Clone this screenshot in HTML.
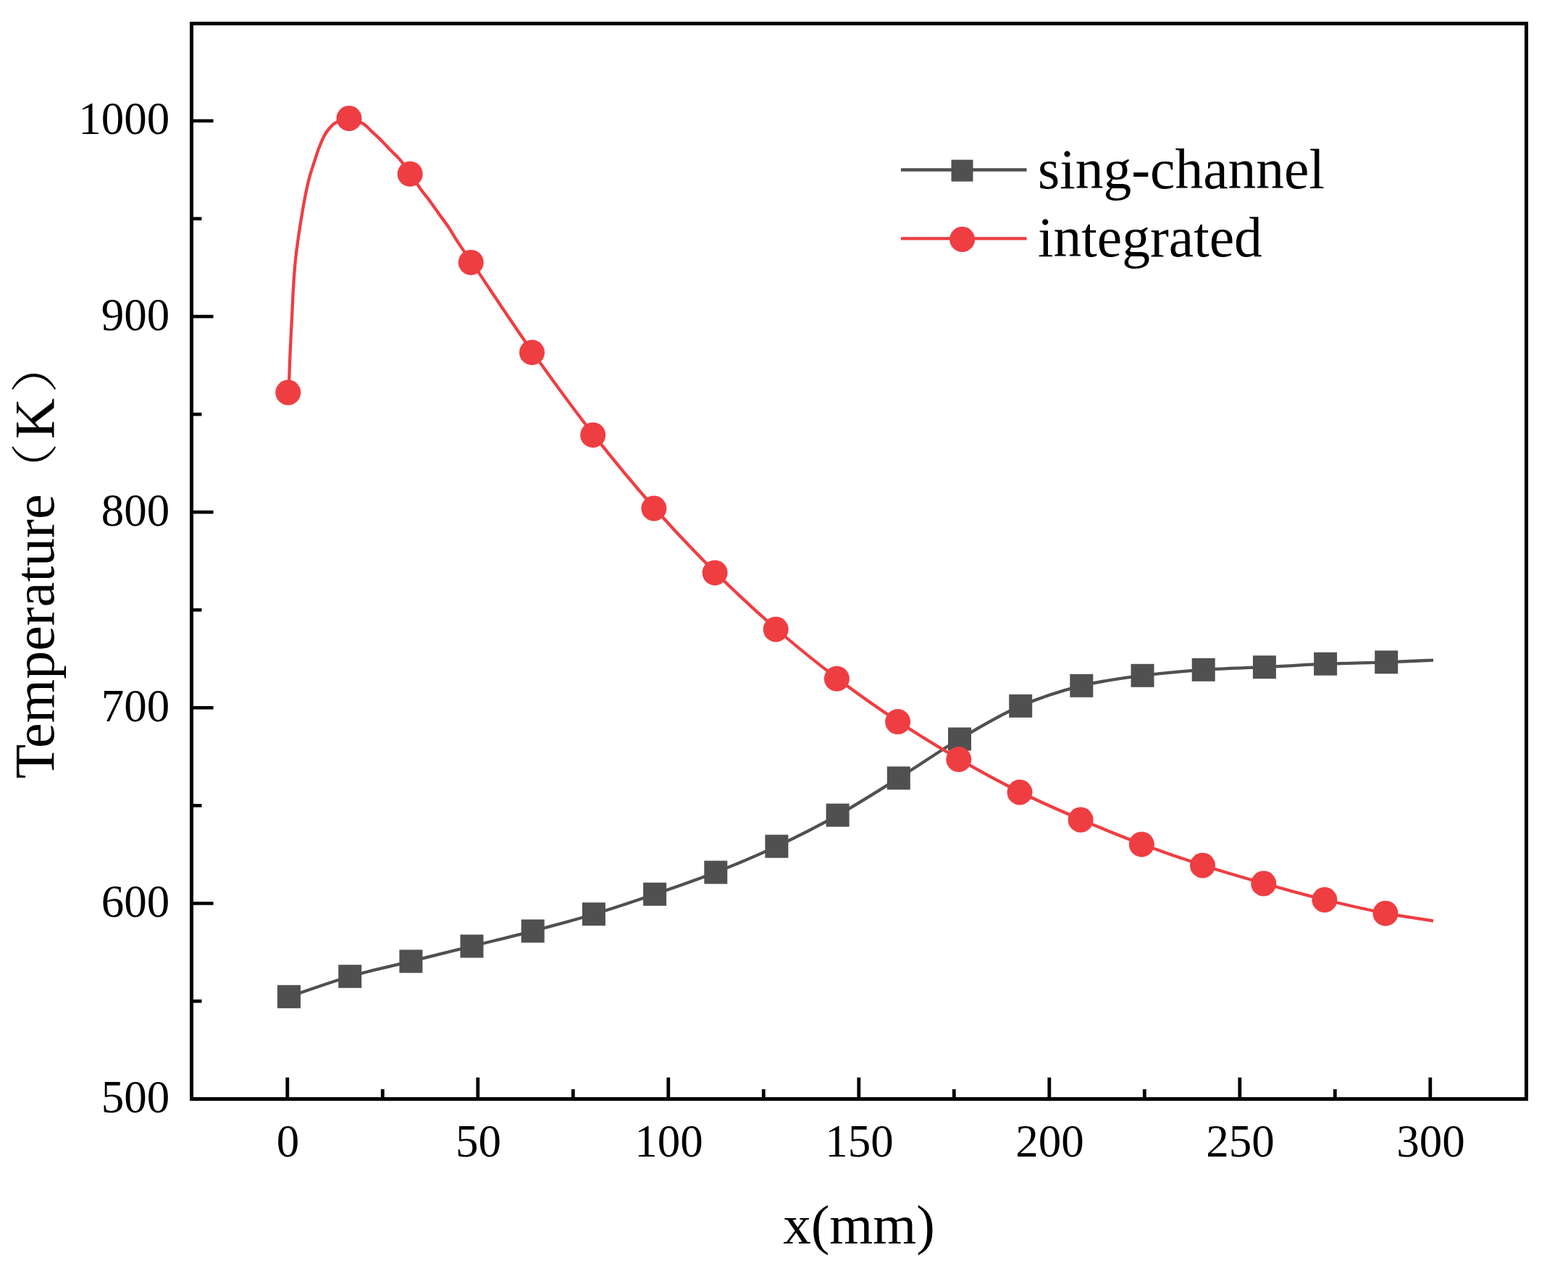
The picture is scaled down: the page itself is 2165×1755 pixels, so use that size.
<!DOCTYPE html>
<html><head><meta charset="utf-8"><title>Temperature vs x</title>
<style>
html,body{margin:0;padding:0;background:#fff;}
body{width:2165px;height:1755px;overflow:hidden;}
svg{display:block;}
text{font-family:"Liberation Serif","Noto Serif CJK SC",serif;fill:#000;}
.t{font-size:63px;}
.ti{font-size:77px;}
.yt{font-size:78px;}
.yt.cjk{font-size:65px;font-weight:200;}
.lg{font-size:77.5px;}
.cjk{font-family:"Noto Serif CJK SC","Liberation Serif",serif;}
</style></head>
<body>
<svg width="2165" height="1755" viewBox="0 0 2165 1755">
<rect width="2165" height="1755" fill="#fff"/>
<rect x="264.5" y="32.5" width="1843" height="1485" fill="none" stroke="#000" stroke-width="5"/>
<line x1="264.5" y1="1382.44" x2="278.5" y2="1382.44" stroke="#000" stroke-width="4.6"/>
<line x1="264.5" y1="1247.38" x2="294.6" y2="1247.38" stroke="#000" stroke-width="4.6"/>
<line x1="264.5" y1="1112.32" x2="278.5" y2="1112.32" stroke="#000" stroke-width="4.6"/>
<line x1="264.5" y1="977.26" x2="294.6" y2="977.26" stroke="#000" stroke-width="4.6"/>
<line x1="264.5" y1="842.20" x2="278.5" y2="842.20" stroke="#000" stroke-width="4.6"/>
<line x1="264.5" y1="707.14" x2="294.6" y2="707.14" stroke="#000" stroke-width="4.6"/>
<line x1="264.5" y1="572.08" x2="278.5" y2="572.08" stroke="#000" stroke-width="4.6"/>
<line x1="264.5" y1="437.02" x2="294.6" y2="437.02" stroke="#000" stroke-width="4.6"/>
<line x1="264.5" y1="301.96" x2="278.5" y2="301.96" stroke="#000" stroke-width="4.6"/>
<line x1="264.5" y1="166.90" x2="294.6" y2="166.90" stroke="#000" stroke-width="4.6"/>
<line x1="396.80" y1="1517.5" x2="396.80" y2="1487.8" stroke="#000" stroke-width="4.8"/>
<line x1="528.30" y1="1517.5" x2="528.30" y2="1504.0" stroke="#000" stroke-width="4.8"/>
<line x1="659.80" y1="1517.5" x2="659.80" y2="1487.8" stroke="#000" stroke-width="4.8"/>
<line x1="791.30" y1="1517.5" x2="791.30" y2="1504.0" stroke="#000" stroke-width="4.8"/>
<line x1="922.80" y1="1517.5" x2="922.80" y2="1487.8" stroke="#000" stroke-width="4.8"/>
<line x1="1054.30" y1="1517.5" x2="1054.30" y2="1504.0" stroke="#000" stroke-width="4.8"/>
<line x1="1185.80" y1="1517.5" x2="1185.80" y2="1487.8" stroke="#000" stroke-width="4.8"/>
<line x1="1317.30" y1="1517.5" x2="1317.30" y2="1504.0" stroke="#000" stroke-width="4.8"/>
<line x1="1448.80" y1="1517.5" x2="1448.80" y2="1487.8" stroke="#000" stroke-width="4.8"/>
<line x1="1580.30" y1="1517.5" x2="1580.30" y2="1504.0" stroke="#000" stroke-width="4.8"/>
<line x1="1711.80" y1="1517.5" x2="1711.80" y2="1487.8" stroke="#000" stroke-width="4.8"/>
<line x1="1843.30" y1="1517.5" x2="1843.30" y2="1504.0" stroke="#000" stroke-width="4.8"/>
<line x1="1974.80" y1="1517.5" x2="1974.80" y2="1487.8" stroke="#000" stroke-width="4.8"/>
<path d="M399.0,1376.2 C427.1,1366.9 455.0,1356.4 483.2,1348.2 C511.1,1340.1 539.3,1334.3 567.4,1327.4 C595.4,1320.4 623.5,1313.5 651.5,1306.5 C679.6,1299.5 707.7,1293.0 735.7,1285.6 C763.8,1278.2 791.9,1270.7 819.9,1262.2 C848.1,1253.7 876.1,1244.3 904.1,1234.7 C932.2,1225.1 960.4,1215.4 988.3,1204.5 C1016.5,1193.4 1044.6,1181.6 1072.4,1168.6 C1100.7,1155.4 1128.8,1141.1 1156.6,1125.6 C1185.0,1109.8 1212.8,1091.9 1240.8,1074.4 C1269.0,1056.8 1296.6,1037.3 1325.0,1020.5 C1352.7,1004.1 1380.5,987.2 1409.2,974.8 C1436.7,962.9 1465.0,953.8 1493.3,946.8 C1521.1,939.9 1549.4,936.5 1577.5,932.8 C1605.5,929.1 1633.6,926.7 1661.7,924.8 C1689.7,922.9 1717.8,922.5 1745.9,921.2 C1773.9,919.8 1802.0,917.9 1830.1,916.7 C1858.1,915.6 1888.0,915.2 1914.2,914.3 C1937.2,913.5 1957.4,912.5 1979.0,911.6" fill="none" stroke="#505050" stroke-width="4.3" stroke-linejoin="round"/>
<rect x="383.0" y="1360.2" width="32" height="32" fill="#505050"/>
<rect x="467.2" y="1332.2" width="32" height="32" fill="#505050"/>
<rect x="551.4" y="1311.4" width="32" height="32" fill="#505050"/>
<rect x="635.5" y="1290.5" width="32" height="32" fill="#505050"/>
<rect x="719.7" y="1269.6" width="32" height="32" fill="#505050"/>
<rect x="803.9" y="1246.2" width="32" height="32" fill="#505050"/>
<rect x="888.1" y="1218.7" width="32" height="32" fill="#505050"/>
<rect x="972.3" y="1188.5" width="32" height="32" fill="#505050"/>
<rect x="1056.4" y="1152.6" width="32" height="32" fill="#505050"/>
<rect x="1140.6" y="1109.6" width="32" height="32" fill="#505050"/>
<rect x="1224.8" y="1058.4" width="32" height="32" fill="#505050"/>
<rect x="1309.0" y="1004.5" width="32" height="32" fill="#505050"/>
<rect x="1393.2" y="958.8" width="32" height="32" fill="#505050"/>
<rect x="1477.3" y="930.8" width="32" height="32" fill="#505050"/>
<rect x="1561.5" y="916.8" width="32" height="32" fill="#505050"/>
<rect x="1645.7" y="908.8" width="32" height="32" fill="#505050"/>
<rect x="1729.9" y="905.2" width="32" height="32" fill="#505050"/>
<rect x="1814.1" y="900.7" width="32" height="32" fill="#505050"/>
<rect x="1898.2" y="898.3" width="32" height="32" fill="#505050"/>
<path d="M399.0,542.0 C399.1,535.4 399.1,529.8 399.3,522.2 C399.6,511.8 400.1,498.4 400.7,485.4 C401.3,470.9 402.2,454.7 403.0,439.3 C403.8,424.0 404.4,407.5 405.3,393.3 C406.1,380.9 406.9,369.6 408.0,358.7 C409.0,349.0 410.2,340.5 411.5,331.1 C412.9,321.3 414.4,311.3 416.1,301.2 C417.8,290.6 419.8,279.0 421.8,268.9 C423.6,259.9 425.5,251.3 427.6,243.6 C429.4,236.9 431.4,231.5 433.4,225.2 C435.6,218.5 437.9,210.9 440.3,204.5 C442.5,198.7 444.7,193.1 447.2,188.4 C449.3,184.4 451.6,181.0 454.1,178.0 C456.3,175.3 458.2,173.1 461.0,171.1 C464.1,168.9 468.2,166.8 472.0,165.5 C475.6,164.3 479.1,163.1 483.2,163.5 C488.7,164.1 496.5,167.9 501.8,171.2 C506.5,174.1 509.7,178.1 513.7,181.8 C518.0,185.8 522.6,190.0 527.0,194.4 C531.5,198.9 536.0,204.0 540.2,208.3 C543.9,212.1 547.0,214.6 550.8,218.9 C555.9,224.6 562.4,233.1 567.4,240.2 C572.0,246.8 575.6,253.7 580.0,260.0 C584.2,266.0 588.9,271.3 593.2,277.2 C597.7,283.2 602.0,289.5 606.4,295.7 C610.8,301.9 615.4,307.7 619.7,314.2 C624.2,321.0 628.0,328.0 632.9,335.4 C638.5,343.9 643.1,350.1 651.5,362.4 C669.5,388.7 707.2,446.4 735.7,486.7 C763.4,525.8 791.3,564.2 819.9,600.7 C847.5,635.9 875.5,669.8 904.1,702.0 C931.6,733.1 959.7,762.7 988.3,790.9 C1015.9,818.2 1044.0,844.3 1072.4,869.0 C1100.1,893.0 1128.2,915.7 1156.6,937.2 C1184.3,958.2 1212.5,977.9 1240.8,996.6 C1268.6,1015.0 1296.7,1032.2 1325.0,1048.6 C1352.8,1064.7 1380.9,1080.0 1409.2,1094.0 C1437.0,1107.8 1465.2,1120.0 1493.3,1132.0 C1521.3,1143.9 1549.3,1155.4 1577.5,1165.9 C1605.5,1176.3 1633.5,1186.0 1661.7,1195.0 C1689.7,1204.0 1717.8,1212.1 1745.9,1220.0 C1773.9,1227.9 1801.9,1235.6 1830.1,1242.5 C1858.0,1249.3 1887.9,1256.2 1914.2,1261.2 C1937.2,1265.6 1957.4,1268.1 1979.0,1271.6" fill="none" stroke="#EF3E42" stroke-width="4.3" stroke-linejoin="round"/>
<circle cx="397.8" cy="542.0" r="17.5" fill="#EF3E42"/>
<circle cx="482.0" cy="163.5" r="17.5" fill="#EF3E42"/>
<circle cx="566.2" cy="240.2" r="17.5" fill="#EF3E42"/>
<circle cx="650.3" cy="362.4" r="17.5" fill="#EF3E42"/>
<circle cx="734.5" cy="486.7" r="17.5" fill="#EF3E42"/>
<circle cx="818.7" cy="600.7" r="17.5" fill="#EF3E42"/>
<circle cx="902.9" cy="702.0" r="17.5" fill="#EF3E42"/>
<circle cx="987.1" cy="790.9" r="17.5" fill="#EF3E42"/>
<circle cx="1071.2" cy="869.0" r="17.5" fill="#EF3E42"/>
<circle cx="1155.4" cy="937.2" r="17.5" fill="#EF3E42"/>
<circle cx="1239.6" cy="996.6" r="17.5" fill="#EF3E42"/>
<circle cx="1323.8" cy="1048.6" r="17.5" fill="#EF3E42"/>
<circle cx="1408.0" cy="1094.0" r="17.5" fill="#EF3E42"/>
<circle cx="1492.1" cy="1132.0" r="17.5" fill="#EF3E42"/>
<circle cx="1576.3" cy="1165.9" r="17.5" fill="#EF3E42"/>
<circle cx="1660.5" cy="1195.0" r="17.5" fill="#EF3E42"/>
<circle cx="1744.7" cy="1220.0" r="17.5" fill="#EF3E42"/>
<circle cx="1828.9" cy="1242.5" r="17.5" fill="#EF3E42"/>
<circle cx="1913.0" cy="1261.2" r="17.5" fill="#EF3E42"/>
<text x="234.3" y="1536.0" text-anchor="end" class="t">500</text>
<text x="234.3" y="1265.9" text-anchor="end" class="t">600</text>
<text x="234.3" y="995.8" text-anchor="end" class="t">700</text>
<text x="234.3" y="725.6" text-anchor="end" class="t">800</text>
<text x="234.3" y="455.5" text-anchor="end" class="t">900</text>
<text x="234.3" y="185.4" text-anchor="end" class="t">1000</text>
<text x="397.4" y="1596.5" text-anchor="middle" class="t">0</text>
<text x="660.4" y="1596.5" text-anchor="middle" class="t">50</text>
<text x="923.4" y="1596.5" text-anchor="middle" class="t">100</text>
<text x="1186.4" y="1596.5" text-anchor="middle" class="t">150</text>
<text x="1449.4" y="1596.5" text-anchor="middle" class="t">200</text>
<text x="1712.4" y="1596.5" text-anchor="middle" class="t">250</text>
<text x="1975.4" y="1596.5" text-anchor="middle" class="t">300</text>
<text x="1186" y="1717" text-anchor="middle" class="ti">x(mm)</text>
<text transform="translate(74.4,0) rotate(-90)" class="yt" x="-1075.3" y="0">Temperature</text>
<text transform="translate(74.4,0) rotate(-90) scale(1.15,1)" class="yt cjk" x="-596.7" y="-3.0">（</text>
<text transform="translate(74.4,0) rotate(-90)" class="yt" x="-606.3" y="0">K</text>
<text transform="translate(74.4,0) rotate(-90) scale(1.217,1)" class="yt cjk" x="-446.3" y="-3.0">）</text>
<line x1="1243.9" y1="234.5" x2="1417.6" y2="234.5" stroke="#505050" stroke-width="4.3"/>
<rect x="1313.5" y="220.6" width="30" height="30" fill="#505050"/>
<line x1="1243.9" y1="329.4" x2="1417.6" y2="329.4" stroke="#EF3E42" stroke-width="4.3"/>
<circle cx="1328.6" cy="330.5" r="17.5" fill="#EF3E42"/>
<text x="1433" y="259.5" class="lg">sing-channel</text>
<text x="1433" y="354.4" class="lg">integrated</text>
</svg>
</body></html>
